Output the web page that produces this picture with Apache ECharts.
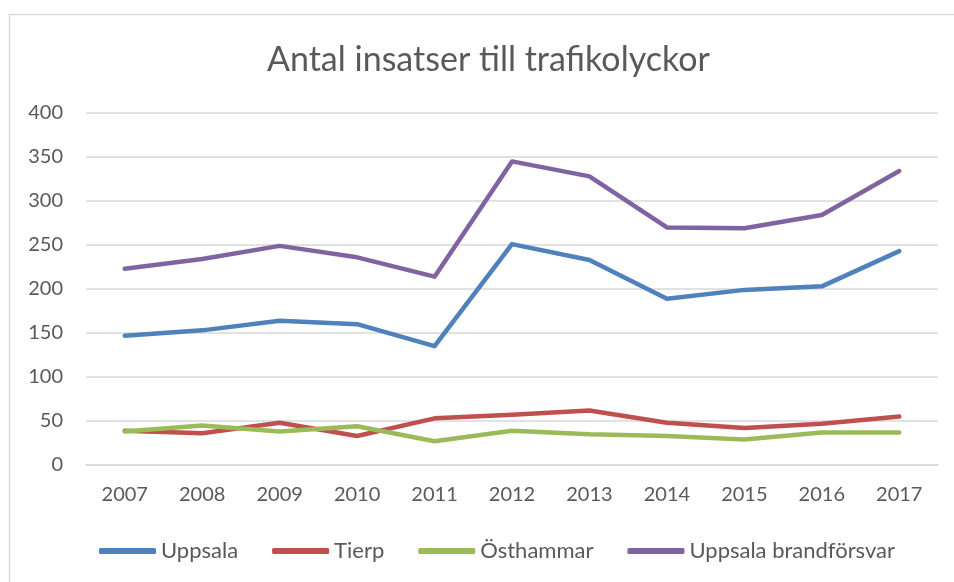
<!DOCTYPE html>
<html>
<head>
<meta charset="utf-8">
<script src="https://cdn.jsdelivr.net/npm/echarts@6/dist/echarts.min.js"></script>
<style>
  html, body { margin: 0; padding: 0; background: #fff; }
  #chart { width: 954px; height: 582px; }
</style>
</head>
<body>
<div id="chart"></div>
<script>
// Rescue call-outs to traffic accidents per municipality, 2007–2017
const years = ['2007', '2008', '2009', '2010', '2011', '2012', '2013', '2014', '2015', '2016', '2017'];
const uppsala = [147, 153, 164, 160, 135, 251, 233, 189, 199, 203, 243];
const tierp = [39, 36, 48, 33, 53, 57, 62, 48, 42, 47, 55];
const osthammar = [38, 45, 38, 44, 27, 39, 35, 33, 29, 37, 37];
const brandforsvar = [223, 234, 249, 236, 214, 345, 328, 270, 269, 284, 334];

const seriesNames = ['Uppsala', 'Tierp', 'Östhammar', 'Uppsala brandförsvar'];
const seriesData = [uppsala, tierp, osthammar, brandforsvar];
const colors = ['#4F81BD', '#C0504D', '#9BBB59', '#8064A2'];

const textColor = '#595959';
const gridColor = '#D9D9D9';
const font = 'Lato, "Open Sans", sans-serif';

const chart = echarts.init(document.getElementById('chart'), null, { renderer: 'canvas' });

chart.setOption({
  animation: false,
  backgroundColor: '#fff',
  color: colors,
  graphic: [{
    type: 'rect',
    shape: { x: 9.5, y: 14.5, width: 980, height: 620 },
    style: { fill: 'none', stroke: gridColor, lineWidth: 1.5 },
    silent: true
  }],
  title: {
    text: 'Antal insatser till trafikolyckor',
    left: 262,
    top: 38,
    textStyle: { color: textColor, fontFamily: font, fontSize: 34, fontWeight: 'normal' }
  },
  legend: {
    data: seriesNames,
    bottom: 15,
    left: 94,
    icon: 'roundRect',
    itemWidth: 57,
    itemHeight: 6,
    itemGap: 34,
    textStyle: { color: textColor, fontFamily: font, fontSize: 22 }
  },
  grid: { left: 86, right: 16, top: 113, bottom: 117, containLabel: false },
  xAxis: {
    type: 'category',
    data: years,
    boundaryGap: true,
    axisLine: { show: true, lineStyle: { color: gridColor, width: 1.5 } },
    axisTick: { show: false },
    axisLabel: { color: textColor, fontFamily: font, fontSize: 20, margin: 20 }
  },
  yAxis: {
    type: 'value',
    min: 0,
    max: 400,
    interval: 50,
    axisLine: { show: false },
    axisTick: { show: false },
    axisLabel: { color: textColor, fontFamily: font, fontSize: 20, margin: 23 },
    splitLine: { lineStyle: { color: gridColor, width: 1.5 } }
  },
  series: seriesNames.map((name, i) => ({
    name: name,
    type: 'line',
    data: seriesData[i],
    symbol: 'none',
    lineStyle: { width: 4.5, color: colors[i], cap: 'round', join: 'round' },
    itemStyle: { color: colors[i] }
  }))
});
</script>
</body>
</html>
